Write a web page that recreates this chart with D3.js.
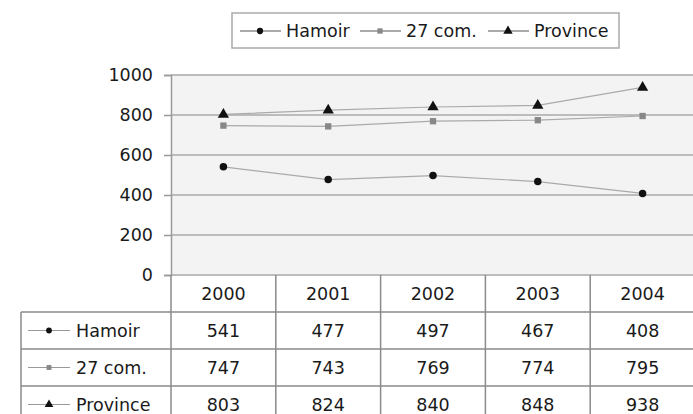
<!DOCTYPE html>
<html>
<head>
<meta charset="utf-8">
<script src="https://cdn.jsdelivr.net/npm/d3@7"></script>
<style>
  body { margin: 0; background: #fff; }
  text { font-family: "DejaVu Sans", sans-serif; fill: #1a1a1a; }
</style>
</head>
<body>
<div class="chart"></div>
<script>
const years = ["2000", "2001", "2002", "2003", "2004"];
const seriesNames = ["Hamoir", "27 com.", "Province"];
const hamoir = [541, 477, 497, 467, 408];
const com27 = [747, 743, 769, 774, 795];
const province = [803, 824, 840, 848, 938];
const yTicks = [0, 200, 400, 600, 800, 1000];

const series = [
  {name: seriesNames[0], values: hamoir, symbol: d3.symbolCircle, size: 44, color: "#111"},
  {name: seriesNames[1], values: com27, symbol: d3.symbolSquare, size: 40, color: "#888"},
  {name: seriesNames[2], values: province, symbol: d3.symbolTriangle, size: 55, color: "#111"}
];

const width = 693, height = 414;
const plot = {left: 171, right: 695, top: 75, bottom: 275};
const rowH = 37;
const tableLeft = 21;
const fontSize = 17.5;

const svg = d3.select('.chart')
  .append('svg')
  .attr('width', width)
  .attr('height', height);

const xScale = d3.scaleBand()
  .domain(years)
  .range([plot.left, plot.right]);

const yScale = d3.scaleLinear()
  .domain([0, 1000])
  .range([plot.bottom, plot.top]);

// plot background
svg.append("rect")
  .attr("x", plot.left)
  .attr("y", plot.top)
  .attr("width", plot.right - plot.left)
  .attr("height", plot.bottom - plot.top)
  .attr("fill", "#f3f3f3");

// gridlines
svg.selectAll(".grid")
  .data(yTicks)
  .enter()
  .append("line")
  .attr("class", "grid")
  .attr("x1", plot.left)
  .attr("x2", plot.right)
  .attr("y1", d => yScale(d))
  .attr("y2", d => yScale(d))
  .attr("stroke", "#bcbcbc")
  .attr("stroke-width", 2);

// y axis
const yAxis = d3.axisLeft(yScale)
  .tickValues(yTicks)
  .tickFormat(d3.format("d"))
  .tickSize(7)
  .tickPadding(11);

svg.append("g")
  .attr("class", "axis y-axis")
  .attr("transform", "translate(" + plot.left + ",0)")
  .call(yAxis)
  .call(g => g.select(".domain").attr("stroke", "#999").attr("stroke-width", 1.5))
  .call(g => g.selectAll(".tick line").attr("stroke", "#999").attr("stroke-width", 1.5))
  .call(g => g.selectAll(".tick text")
    .attr("font-size", fontSize)
    .attr("font-family", "DejaVu Sans, sans-serif")
    .attr("fill", "#1a1a1a"));

// series lines and markers
const line = d3.line()
  .x((d, i) => xScale(years[i]) + xScale.bandwidth() / 2)
  .y(d => yScale(d));

series.forEach(s => {
  svg.append("path")
    .datum(s.values)
    .attr("d", line)
    .attr("fill", "none")
    .attr("stroke", "#aaa")
    .attr("stroke-width", 1.2);

  svg.selectAll(null)
    .data(s.values)
    .enter()
    .append("path")
    .attr("d", d3.symbol().type(s.symbol).size(s.size))
    .attr("transform", (d, i) => "translate(" + (xScale(years[i]) + xScale.bandwidth() / 2) + "," + yScale(d) + ")")
    .attr("fill", s.color);
});

// data table
const tableTop = plot.bottom;
const headerBottom = 312;
const tableBottom = headerBottom + rowH * series.length;
const gridColor = "#8a8a8a";

// vertical lines of the table
svg.selectAll(".vline")
  .data(years)
  .enter()
  .append("line")
  .attr("x1", d => xScale(d))
  .attr("x2", d => xScale(d))
  .attr("y1", tableTop)
  .attr("y2", tableBottom)
  .attr("stroke", gridColor)
  .attr("stroke-width", 1.5);

svg.append("line")
  .attr("x1", tableLeft).attr("x2", tableLeft)
  .attr("y1", headerBottom).attr("y2", tableBottom)
  .attr("stroke", gridColor).attr("stroke-width", 1.5);

// horizontal lines
const hLines = d3.range(series.length + 1).map(i => headerBottom + i * rowH);
svg.selectAll(".hline")
  .data(hLines)
  .enter()
  .append("line")
  .attr("x1", tableLeft)
  .attr("x2", plot.right)
  .attr("y1", d => d)
  .attr("y2", d => d)
  .attr("stroke", gridColor)
  .attr("stroke-width", 1.5);

// header
svg.selectAll(".yearlabel")
  .data(years)
  .enter()
  .append("text")
  .attr("x", d => xScale(d) + xScale.bandwidth() / 2)
  .attr("y", (tableTop + headerBottom) / 2 + 6)
  .attr("text-anchor", "middle")
  .attr("font-size", fontSize)
  .text(d => d);

// rows
series.forEach((s, r) => {
  const cy = headerBottom + r * rowH + rowH / 2;
  svg.append("line")
    .attr("x1", 28).attr("x2", 70)
    .attr("y1", cy).attr("y2", cy)
    .attr("stroke", "#999").attr("stroke-width", 1.2);
  svg.append("path")
    .attr("d", d3.symbol().type(s.symbol).size(s.size * 0.6))
    .attr("transform", "translate(49," + cy + ")")
    .attr("fill", s.color);
  svg.append("text")
    .attr("x", 76)
    .attr("y", cy + 6)
    .attr("font-size", fontSize)
    .text(s.name);
  svg.selectAll(null)
    .data(s.values)
    .enter()
    .append("text")
    .attr("x", (d, i) => xScale(years[i]) + xScale.bandwidth() / 2)
    .attr("y", cy + 6)
    .attr("text-anchor", "middle")
    .attr("font-size", fontSize)
    .text(d => d);
});

// legend
const legend = svg.append("g");
legend.append("rect")
  .attr("x", 232).attr("y", 13)
  .attr("width", 387).attr("height", 35)
  .attr("fill", "#fff")
  .attr("stroke", "#aaa")
  .attr("stroke-width", 1.5);

const legendX = [240, 360, 488];
series.forEach((s, i) => {
  const lx = legendX[i], ly = 31;
  legend.append("line")
    .attr("x1", lx).attr("x2", lx + 41)
    .attr("y1", ly).attr("y2", ly)
    .attr("stroke", "#555").attr("stroke-width", 1);
  legend.append("path")
    .attr("d", d3.symbol().type(s.symbol).size(s.size * 0.7))
    .attr("transform", "translate(" + (lx + 20) + "," + ly + ")")
    .attr("fill", s.color);
  legend.append("text")
    .attr("x", lx + 46)
    .attr("y", ly + 6)
    .attr("font-size", fontSize)
    .text(s.name);
});
</script>
</body>
</html>
